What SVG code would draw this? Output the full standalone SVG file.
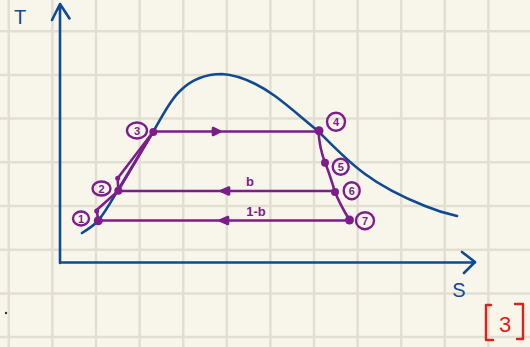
<svg xmlns="http://www.w3.org/2000/svg" width="530" height="347" viewBox="0 0 530 347">
<defs>
<style>
.grid{stroke:#e2dfd2;stroke-width:2.5}
.blue{stroke:#0f4a92;stroke-width:2.6;fill:none;stroke-linecap:round;stroke-linejoin:round}
.pur{stroke:#7d1d8c;stroke-width:2.6;fill:none;stroke-linecap:round;stroke-linejoin:round}
.arr{stroke:#7d1d8c;stroke-width:2.6;fill:#7d1d8c;stroke-linejoin:round}
.dot{fill:#7d1d8c}
.lbl ellipse{fill:none;stroke:#7d1d8c;stroke-width:2.4}
.lbl text{fill:#7d1d8c;font-family:"Liberation Sans",sans-serif;font-size:11px;font-weight:bold;text-anchor:middle}
.ptxt{fill:#7d1d8c;font-family:"Liberation Sans",sans-serif;font-size:13px;font-weight:bold;text-anchor:middle}
.btxt{fill:#0f4a92;font-family:"Liberation Sans",sans-serif;font-size:20px;text-anchor:middle}
</style>
</defs>
<rect width="530" height="347" fill="#f8f6ea"/>
<g id="grid">
<path class="grid" d="M8.8 0V347M52.4 0V347M96 0V347M139.6 0V347M183.2 0V347M226.8 0V347M270.4 0V347M314 0V347M357.6 0V347M401.2 0V347M444.8 0V347M488.4 0V347"/>
<path class="grid" d="M0 31.2H530M0 74.9H530M0 118.6H530M0 162.3H530M0 206H530M0 249.7H530M0 293.4H530M0 337.1H530"/>
</g>
<g id="axes">
<path class="blue" d="M60 263V4M52 20L60 4L69.5 18.5M60 262.5H475M462 252L475 262L464 273"/>
<text class="btxt" x="20" y="24" font-size="17">T</text>
<text class="btxt" x="459" y="297">S</text>
</g>
<g id="dome">
<path class="blue" d="M82 233C90 228 95 224 98 221C106 211 112 200 118 190C130 170 142 150 153 132C162 117 170 100 180 91C192 79 207 74 222 74C240 75 258 84 275 96C290 107 302 118 318 131C333 146 348 162 365 174C385 189 405 198 425 206C437 211 448 214 457 216"/>
</g>
<g id="connectors">
<path class="pur" d="M153 131.5H318"/>
<path class="arr" d="M213 128L220 131.5L213 135Z"/>
<path class="pur" d="M118 191H335"/>
<path class="arr" d="M229 187.5L221 191L229 194.5Z"/>
<path class="pur" d="M98 220.5H350"/>
<path class="arr" d="M228 217L220 220.5L228 224Z"/>
<path class="pur" d="M318.5 131C319 142 321 152 325 162.5C329 172 332 182 335 192C339 202 344 211 349.5 220"/>
<path class="pur" d="M153 132L117.7 178.3L118.3 190.7M153 132L118.3 190.7L96.7 210L98.3 220.7"/>
<text class="ptxt" x="250" y="186">b</text>
<text class="ptxt" x="256" y="216">1-b</text>
</g>
<g id="n1"><circle class="dot" cx="98.3" cy="220.7" r="4.5"/><circle class="dot" cx="96.7" cy="211" r="2.5"/><g class="lbl"><ellipse cx="81" cy="218.5" rx="8" ry="7"/><text x="81" y="222.5">1</text></g></g>
<g id="n2"><circle class="dot" cx="118.3" cy="190.7" r="4"/><circle class="dot" cx="117.7" cy="178.3" r="2.5"/><g class="lbl"><ellipse cx="101.5" cy="188.5" rx="9" ry="7"/><text x="101.5" y="192.5">2</text></g></g>
<g id="n3"><circle class="dot" cx="153.3" cy="132" r="4"/><g class="lbl"><ellipse cx="137" cy="130.5" rx="10" ry="8"/><text x="137" y="134.5">3</text></g></g>
<g id="n4"><circle class="dot" cx="319" cy="130.7" r="4.5"/><g class="lbl"><ellipse cx="336" cy="121.7" rx="9" ry="9"/><text x="336" y="125.7">4</text></g></g>
<g id="n5"><circle class="dot" cx="325" cy="162.7" r="4"/><g class="lbl"><ellipse cx="340.7" cy="166.7" rx="8" ry="8"/><text x="340.7" y="170.7">5</text></g></g>
<g id="n6"><circle class="dot" cx="335" cy="192" r="4"/><g class="lbl"><ellipse cx="351.7" cy="190.7" rx="8" ry="8.5"/><text x="351.7" y="194.7">6</text></g></g>
<g id="n7"><circle class="dot" cx="349.5" cy="220" r="4.5"/><g class="lbl"><ellipse cx="365" cy="220.7" rx="9" ry="8.5"/><text x="365" y="224.7">7</text></g></g>
<circle cx="6" cy="313" r="1.2" fill="#333"/>
<g id="tag">
<path d="M491 305H486V340H493M515 304H523V339H517" fill="none" stroke="#e0201a" stroke-width="2.4" stroke-linecap="round" stroke-linejoin="round"/>
<text x="505" y="332" font-family="Liberation Sans,sans-serif" font-size="22" fill="#e0201a" text-anchor="middle">3</text>
</g>
</svg>
